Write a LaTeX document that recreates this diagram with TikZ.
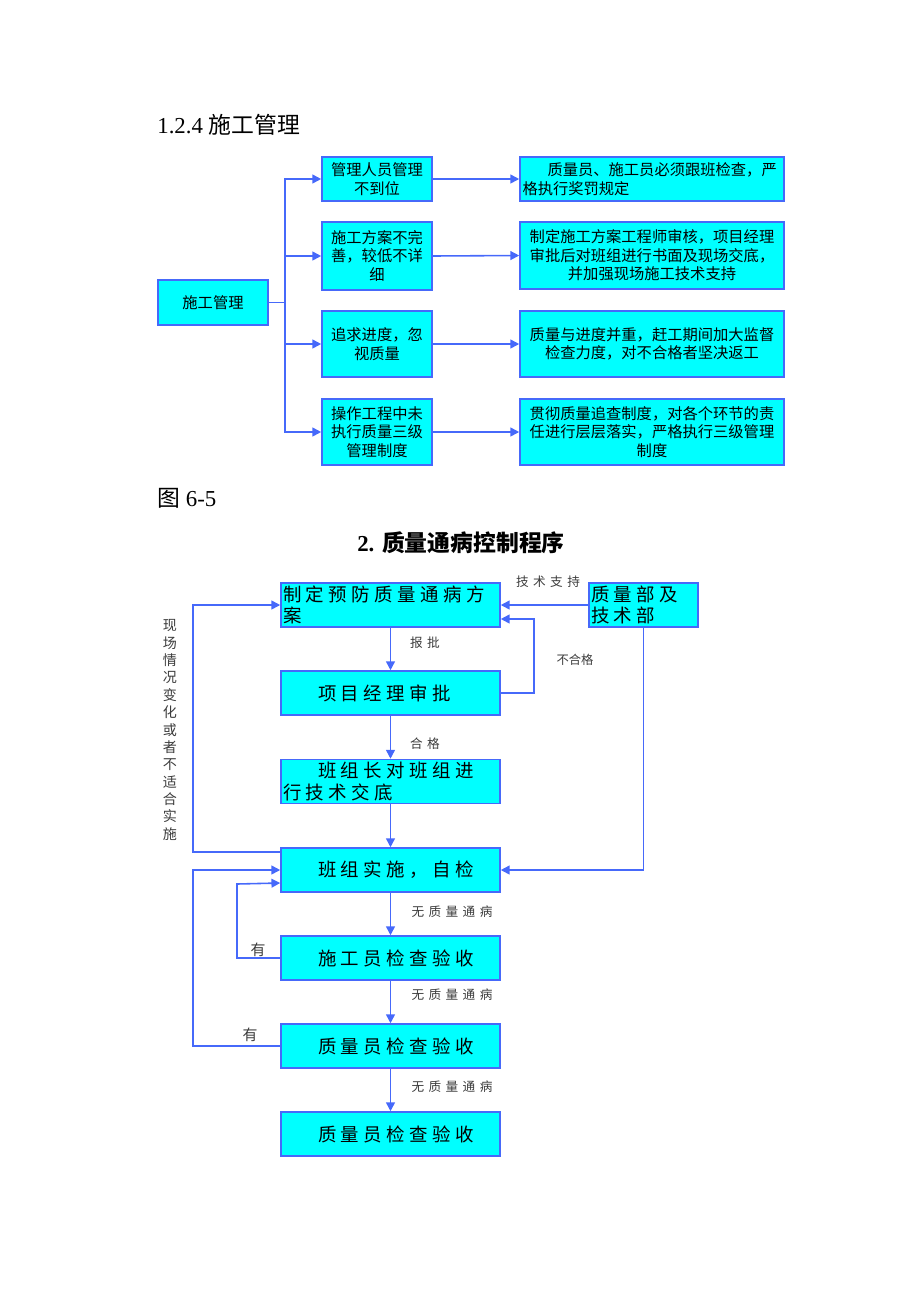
\documentclass[tikz,border=0pt]{standalone}
\usepackage{fontspec}
\setmainfont{Liberation Serif}
\newfontfamily\cjk{Noto Sans CJK SC}
\newfontfamily\cjkwide[LetterSpace=24]{Noto Sans CJK SC}
\newfontfamily\cjkthin[LetterSpace=35]{Noto Sans CJK SC}
\usetikzlibrary{arrows.meta}
\definecolor{boxcyan}{RGB}{0,255,255}
\definecolor{flowblue}{RGB}{70,105,250}
\definecolor{labgray}{RGB}{60,60,60}
\tikzset{
  box/.style={draw=flowblue, line width=0.9pt, fill=boxcyan, inner sep=0pt, align=center,
    font=\fontsize{8.7}{10.5}\selectfont\cjk},
  flowbox/.style={draw=flowblue, line width=0.9pt, fill=boxcyan, minimum height=0.88cm,
    text width=4.3cm, inner xsep=0.04cm, inner ysep=0pt, align=left,
    font=\fontsize{10.5}{12}\selectfont\cjkwide},
  link/.style={draw=flowblue, line width=0.9pt},
  arr/.style={link, -{Triangle[length=5pt,width=5pt]}},
  lab/.style={text=labgray, inner sep=0pt, font=\fontsize{7.2}{8}\selectfont\cjkthin},
}

\begin{document}
\begin{tikzpicture}[x=0.02cm, y=-0.02cm]
  %%%%% START %%%%%
  \useasboundingbox (0,0) rectangle (920,1302);

  % 1.2.4 section
  \node[anchor=west, inner sep=0pt, font=\fontsize{13}{15}\selectfont] (head) at (157,125) {1.2.4 {\cjk 施工管理}};

  \node[box, minimum width=2.2cm, minimum height=0.9cm] (mg) at (213,302.5) {施工管理};

  \node[box, minimum width=2.2cm, minimum height=0.88cm] (p1) at (377,179) {管理人员管理\\不到位};
  \node[box, minimum width=2.2cm, minimum height=1.36cm] (p2) at (377,256) {施工方案不完\\善，较低不详\\细};
  \node[box, minimum width=2.2cm, minimum height=1.32cm] (p3) at (377,344) {追求进度，忽\\视质量};
  \node[box, minimum width=2.2cm, minimum height=1.32cm] (p4) at (377,432) {操作工程中未\\执行质量三级\\管理制度};

  \node[box, minimum width=5.28cm, minimum height=0.88cm, text width=5.18cm, align=left] (s1) at (652,179)
    {\hspace*{0.5cm}质量员、施工员必须跟班检查，严\\格执行奖罚规定};
  \node[box, minimum width=5.28cm, minimum height=1.34cm] (s2) at (652,255.5)
    {制定施工方案工程师审核，项目经理\\审批后对班组进行书面及现场交底，\\并加强现场施工技术支持};
  \node[box, minimum width=5.28cm, minimum height=1.32cm] (s3) at (652,344)
    {质量与进度并重，赶工期间加大监督\\检查力度，对不合格者坚决返工};
  \node[box, minimum width=5.28cm, minimum height=1.32cm] (s4) at (652,432)
    {贯彻质量追查制度，对各个环节的责\\任进行层层落实，严格执行三级管理\\制度};

  \coordinate (tr) at (285,302.5);
  \draw[link] (mg.east) -- (tr);
  \foreach \n in {p1,p2,p3,p4}
    \draw[arr] (tr) |- (\n.west);
  \foreach \n in {1,...,4}
    \draw[arr] (p\n.east) -- (s\n.west);

  \node[anchor=west, inner sep=0pt, font=\fontsize{13}{15}\selectfont] (fig) at (157,498) {{\cjk 图} 6-5};

  % quality control procedure
  \node[inner sep=0pt, font=\fontsize{13}{16}\selectfont\bfseries] (title) at (461,543) {2. {\cjk\bfseries 质量通病控制程序}};

  \node[flowbox] (A) at (390.5,605) {制定预防质量通病方\\案};
  \node[flowbox, text width=2.1cm] (B) at (643.5,605) {质量部及\\技术部};
  \node[flowbox] (C) at (390.5,693) {\hspace*{0.7cm}项目经理审批};
  \node[flowbox] (D) at (390.5,781.5) {\hspace*{0.7cm}班组长对班组进\\行技术交底};
  \node[flowbox] (E) at (390.5,870) {\hspace*{0.7cm}班组实施，自检};
  \node[flowbox] (F) at (390.5,958) {\hspace*{0.7cm}施工员检查验收};
  \node[flowbox] (G) at (390.5,1046) {\hspace*{0.7cm}质量员检查验收};
  \node[flowbox] (H) at (390.5,1134) {\hspace*{0.7cm}质量员检查验收};

  \node[lab] (lTech) at (548,582) {技术支持};
  \node[lab] (lRep) at (425,643) {报批};
  \node[lab, font=\fontsize{7}{8}\selectfont\cjk] (lNg) at (575,660) {不合格};
  \node[lab] (lOk) at (425,744) {合格};
  \node[lab] (lN1) at (452,912) {无质量通病};
  \node[lab] (lN2) at (452,995) {无质量通病};
  \node[lab] (lN3) at (452,1087) {无质量通病};
  \node[lab, font=\fontsize{8.5}{10}\selectfont\cjk] (y1) at (258,950) {有};
  \node[lab, font=\fontsize{8.5}{10}\selectfont\cjk] (y2) at (250,1035) {有};
  \node[lab, align=center, font=\fontsize{8}{9.9}\selectfont\cjk] (side) at (170,730)
    {现\\场\\情\\况\\变\\化\\或\\者\\不\\适\\合\\实\\施};

  \draw[arr] (B.west) -- (A.east);
  \draw[arr] (A.south) -- (C.north);
  \draw[arr] (C.south) -- (D.north);
  \draw[arr] (D.south) -- (E.north);
  \draw[arr] (E.south) -- (F.north);
  \draw[arr] (F.south) -- (G.north);
  \draw[arr] (G.south) -- (H.north);
  \draw[arr] (B.south) |- (E.east);

  \coordinate (rb) at (534,693);
  \draw[arr] (C.east) -- (rb) |- ([yshift=-0.28cm]A.east);

  \coordinate (lf) at (193,852);
  \coordinate (lf2) at (193,870);
  \coordinate (ein) at (237,884);
  \draw[arr] ([yshift=0.36cm]E.west) -- (lf) |- (A.west);
  \draw[arr] (F.west) -| (ein) -- ([yshift=-0.26cm]E.west);
  \draw[arr] (G.west) -| (lf2) -- (E.west);
  %%%%% END %%%%%
\end{tikzpicture}
\end{document}
